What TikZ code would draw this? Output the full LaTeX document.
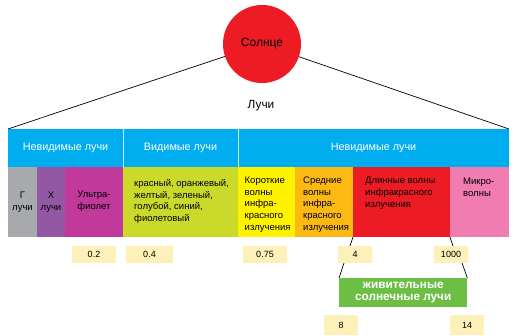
\documentclass[tikz,border=0pt]{standalone}
\usepackage{fontspec}
\setmainfont{Liberation Sans}
\usepackage{xcolor}
\definecolor{sunred}{HTML}{ED1C24}
\definecolor{bandblue}{HTML}{00AEEF}
\definecolor{gammagray}{HTML}{A7A9AC}
\definecolor{xpurple}{HTML}{9258A4}
\definecolor{uvmagenta}{HTML}{C1399B}
\definecolor{visgreen}{HTML}{CBDA2A}
\definecolor{iryellow}{HTML}{FFF200}
\definecolor{irorange}{HTML}{FDB913}
\definecolor{irred}{HTML}{ED1C24}
\definecolor{micropink}{HTML}{F07CB1}
\definecolor{valcream}{HTML}{FDF0B8}
\definecolor{livegreen}{HTML}{6CBE45}
\usetikzlibrary{positioning, calc}
\tikzset{
  cell/.style={
    rectangle, inner sep=0pt, outer sep=0pt, anchor=north west,
    minimum height=70pt
  },
  bandcell/.style={
    rectangle, inner sep=0pt, outer sep=0pt, anchor=north west,
    fill=bandblue, minimum height=38pt, text=white,
    font=\fontsize{10.8}{12}\selectfont
  },
  celltext/.style={
    inner sep=0pt, font=\fontsize{9.5}{11.8}\selectfont
  },
  valuebox/.style={
    rectangle, fill=valcream, inner sep=0pt, outer sep=0pt,
    anchor=north west, minimum height=17pt,
    font=\fontsize{9}{11}\selectfont
  },
  rayline/.style={draw=black, line width=0.7pt},
  sepline/.style={draw=white!80!bandblue, line width=1pt}
}

\begin{document}
\begin{tikzpicture}[x=1pt, y=-1pt]
\useasboundingbox (0,0) rectangle (518,335);

% sun and label
\node[circle, fill=sunred, minimum size=78pt, inner sep=0pt,
      font=\fontsize{12}{14}\selectfont] (sun) at (262,44) {Солнце};
\node[font=\fontsize{11.8}{13}\selectfont] (rays) at (261,106) {Лучи};

% top band
\node[bandcell, minimum width=115pt] (inv1) at (8,129) {Невидимые лучи};
\node[bandcell, minimum width=115pt] (vis) at (123,129) {Видимые лучи};
\node[bandcell, minimum width=271pt] (inv2) at (238,129) {Невидимые лучи};
\draw[sepline] (inv1.north east) -- (inv1.south east);
\draw[sepline] (vis.north east) -- (vis.south east);

\draw[rayline] (sun) -- (inv1.north west);
\draw[rayline] (sun) -- (inv2.north east);

% spectrum cells
\node[cell, fill=gammagray, minimum width=29pt] (gamma) at (8,167) {};
\node[cell, fill=xpurple, minimum width=28pt] (xray) at (37,167) {};
\node[cell, fill=uvmagenta, minimum width=58pt] (uv) at (65,167) {};
\node[cell, fill=visgreen, minimum width=115pt] (visible) at (123,167) {};
\node[cell, fill=iryellow, minimum width=57pt] (shortir) at (238,167) {};
\node[cell, fill=irorange, minimum width=58pt] (midir) at (295,167) {};
\node[cell, fill=irred, minimum width=97pt] (longir) at (353,167) {};
\node[cell, fill=micropink, minimum width=59pt] (micro) at (450,167) {};

\node[celltext, anchor=north, align=center] (gammat) at (22.5,192) {Г\\лучи};
\node[celltext, anchor=north, align=center] (xrayt) at (51,192) {Х\\лучи};
\node[celltext, anchor=north, align=center] (uvt) at (94,191) {Ультра-\\фиолет};
\node[celltext, anchor=north west, align=left] (visiblet) at (134,179)
  {красный, оранжевый,\\желтый, зеленый,\\голубой, синий,\\фиолетовый};
\node[celltext, anchor=north west, align=left] (shortirt) at (244.5,176.5)
  {Короткие\\волны\\инфра-\\красного\\излучения};
\node[celltext, anchor=north west, align=left] (midirt) at (303,176.5)
  {Средние\\волны\\инфра-\\красного\\излучения};
\node[celltext, anchor=north west, align=left] (longirt) at (365,177)
  {Длинные волны\\инфракрасного\\излучения};
\node[celltext, anchor=north west, align=left] (microt) at (463,178)
  {Микро-\\волны};

% wavelength values
\node[valuebox, minimum width=44pt] (v02) at (72,246) {0.2};
\node[valuebox, minimum width=47pt] (v04) at (126,246) {0.4};
\node[valuebox, minimum width=44pt] (v075) at (243,246) {0.75};
\node[valuebox, minimum width=34pt] (v4) at (338,246) {4};
\node[valuebox, minimum width=34pt] (v1000) at (434,246) {1000};

% life-giving rays
\node[rectangle, fill=livegreen, inner sep=0pt, anchor=north west,
      minimum width=128pt, minimum height=29pt, text=white, align=center,
      font=\bfseries\fontsize{11.8}{12.6}\selectfont] (live) at (339,278)
  {живительные\\солнечные лучи};

\draw[rayline] (longir.south west) -- ([xshift=12pt]v4.north west);
\draw[rayline] ([xshift=6pt]v4.south west) -- (live.north west);
\draw[rayline] (longir.south east) -- ([xshift=19pt]v1000.north west);
\draw[rayline] ([xshift=28pt]v1000.south west) -- (live.north east);

\node[valuebox, minimum width=34pt, minimum height=20pt] (v8) at (324,315) {8};
\node[valuebox, minimum width=34pt, minimum height=20pt] (v14) at (450,315) {14};
\end{tikzpicture}
\end{document}
